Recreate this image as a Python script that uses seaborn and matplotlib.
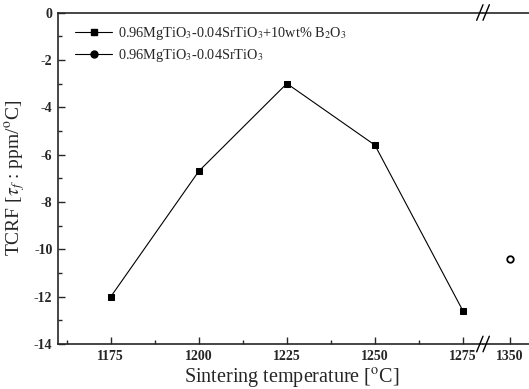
import matplotlib
matplotlib.use('Agg')
import matplotlib.pyplot as plt
from matplotlib.lines import Line2D
from matplotlib.ticker import MultipleLocator
import seaborn as sns
import pandas as pd

# data
temps_b2o3 = [1175, 1200, 1225, 1250, 1275]
tcrf_b2o3 = [-12.0, -6.7, -3.0, -5.6, -12.6]
temps_pure = [1350]
tcrf_pure = [-10.4]
label_b2o3 = '0.96MgTiO$_3$-0.04SrTiO$_3$+10wt% B$_2$O$_3$'
label_pure = '0.96MgTiO$_3$-0.04SrTiO$_3$'
left_ticks = [1175, 1200, 1225, 1250, 1275]
right_ticks = [1350]
y_ticks = [0, -2, -4, -6, -8, -10, -12, -14]

sns.set_style('ticks')
plt.rcParams['font.family'] = ['Liberation Serif', 'DejaVu Serif']
plt.rcParams['mathtext.fontset'] = 'stix'
plt.rcParams['axes.unicode_minus'] = False
plt.rcParams['xtick.direction'] = 'in'
plt.rcParams['ytick.direction'] = 'in'

df_b = pd.DataFrame({'T': temps_b2o3, 'TCRF': tcrf_b2o3})
df_p = pd.DataFrame({'T': temps_pure, 'TCRF': tcrf_pure})

fig = plt.figure(figsize=(5.29, 3.89), dpi=100)
bottom, top = 1 - 344 / 389, 1 - 12.5 / 389
ax1 = fig.add_axes([58 / 529, bottom, (483 - 58) / 529, top - bottom])
ax2 = fig.add_axes([483 / 529, bottom, (529 - 483) / 529 + 0.01, top - bottom], sharey=ax1)

sns.lineplot(data=df_b, x='T', y='TCRF', ax=ax1, color='black', lw=0.8,
             marker='s', markersize=5, markeredgecolor='black', legend=False)
sns.scatterplot(data=df_p, x='T', y='TCRF', ax=ax2, marker='o', s=22,
                facecolor='white', edgecolor='black', linewidth=1.3, legend=False)

ax1.set_xlim(1160, 1280.7)
ax2.set_xlim(1342.4, 1355.4 + 0.01 * 529 / 3.53)
ax1.set_ylim(-14, 0)

ax1.spines['right'].set_visible(False)
ax2.spines['left'].set_visible(False)
ax2.spines['right'].set_visible(False)
ax1.set_xticks(left_ticks)
ax1.xaxis.set_minor_locator(MultipleLocator(12.5))
ax1.set_yticks(y_ticks)
ax1.yaxis.set_minor_locator(MultipleLocator(1))
ax2.set_xticks(right_ticks)

for ax in (ax1, ax2):
    for s in ax.spines.values():
        s.set_linewidth(1.2)
    ax.tick_params(axis='both', which='major', length=5, width=1, labelsize=10, pad=4)
    ax.tick_params(which='minor', length=3, width=1)
    ax.tick_params(top=False, right=False)
ax2.tick_params(axis='y', which='both', left=False, labelleft=False)
for lab in ax1.get_xticklabels() + ax1.get_yticklabels() + ax2.get_xticklabels():
    lab.set_fontweight('bold')

ax1.set_xlabel('Sintering temperature [$^{\\rm o}$C]', fontsize=14.5)
ax1.xaxis.set_label_coords(0.55, -0.068)
ax1.set_ylabel('TCRF [$\\tau_f$ : ppm/$^{\\rm o}$C]', fontsize=14, labelpad=4)
ax2.set_xlabel('')
ax2.set_ylabel('')

# break marks
d = 0.012
kw = dict(transform=fig.transFigure, color='black', lw=1, clip_on=False)
xb = 483 / 529
for yb in (bottom, top):
    for off in (-0.006, 0.006):
        fig.add_artist(Line2D([xb + off - d / 2, xb + off + d / 2], [yb - 0.02, yb + 0.02], **kw))

handles = [
    Line2D([], [], color='black', lw=0.8, marker='s', markersize=5),
    Line2D([], [], color='black', lw=0.8, marker='o', markersize=5),
]
ax1.legend(handles, [label_b2o3, label_pure], loc='upper left', frameon=False,
           fontsize=10.3, handlelength=2.6, handletextpad=0.4, labelspacing=0.3,
           bbox_to_anchor=(0.01, 1.0))

fig.savefig('out.png', dpi=100)
